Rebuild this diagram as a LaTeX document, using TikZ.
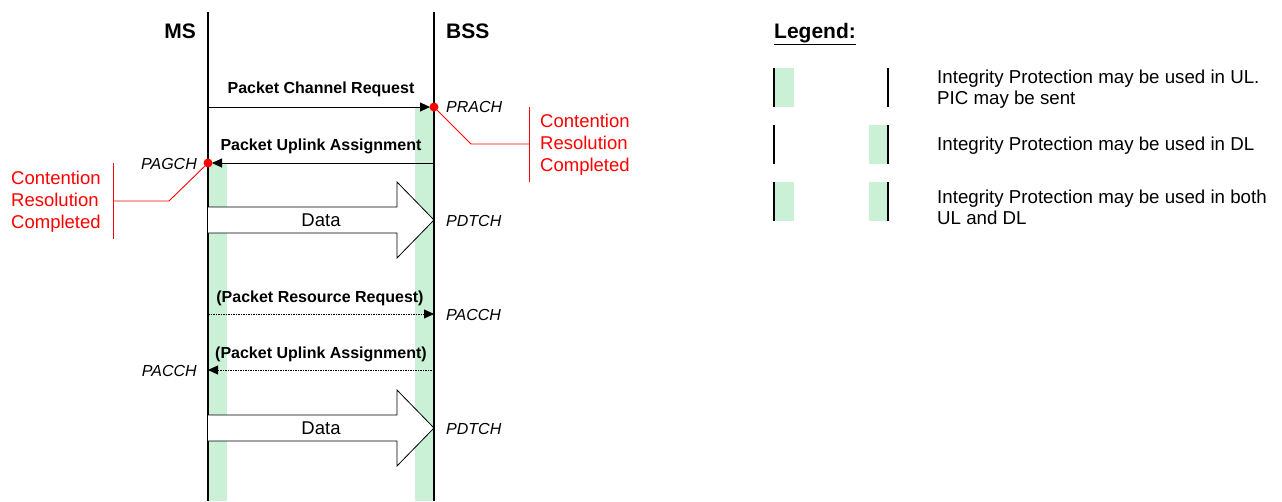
\documentclass[tikz,border=0pt]{standalone}
\usepackage{fontspec}
\setmainfont{Liberation Sans}
\usetikzlibrary{arrows.meta}
\definecolor{bandgreen}{RGB}{202,240,214}
\definecolor{cred}{RGB}{255,0,0}
\tikzset{
  lifeline/.style={line width=2pt},
  band/.style={fill=bandgreen},
  msgarrow/.style={line width=0.9pt,-{Triangle[length=10pt,width=9pt]}},
  optarrow/.style={line width=0.8pt,dash pattern=on 1.5pt off 1pt,-{Triangle[length=10pt,width=9pt]}},
  msglabel/.style={font=\fontsize{16}{19}\selectfont\bfseries,inner sep=0pt,anchor=base},
  chan/.style={font=\fontsize{16}{19}\selectfont\itshape,inner sep=0pt},
  entity/.style={font=\fontsize{21}{25}\selectfont\bfseries,inner sep=0pt},
  bigarrow/.style={fill=white,draw=black,line width=0.8pt,line join=miter},
  datalabel/.style={font=\fontsize{18.5}{22}\selectfont,inner sep=0pt,anchor=base},
  reddot/.style={circle,fill=cred,inner sep=0pt,minimum size=9pt},
  redline/.style={draw=cred,line width=0.9pt},
  redtext/.style={font=\fontsize{18.5}{22}\selectfont,text=cred,align=left,inner sep=0pt,anchor=north west},
  legtext/.style={font=\fontsize{18.7}{21.5}\selectfont,align=left,inner sep=0pt,anchor=north west},
  legbar/.style={line width=2pt},
}
\begin{document}
\begin{tikzpicture}[x=1pt,y=-1pt]
\useasboundingbox (0,0) rectangle (1282,501);

% protection bands along the lifelines
\fill[band] (208,163) rectangle (227,501);
\fill[band] (415,107) rectangle (434,501);

% lifelines
\coordinate (msT) at (208,12);
\coordinate (msB) at (208,501);
\coordinate (bssT) at (434,12);
\coordinate (bssB) at (434,501);
\draw[lifeline] (msT) -- (msB);
\draw[lifeline] (bssT) -- (bssB);

\node[entity,anchor=base east] (ms) at (196,38) {MS};
\node[entity,anchor=base west] (bss) at (446,38) {BSS};

% Packet Channel Request
\coordinate (r1a) at (208,107);
\coordinate (r1b) at (430,107);
\draw[msgarrow] (r1a) -- (r1b);
\node[msglabel] (l1) at (321,93) {Packet Channel Request};
\node[chan,anchor=base west] (prach) at (446,112) {PRACH};

% Packet Uplink Assignment
\coordinate (r2a) at (434,163);
\coordinate (r2b) at (212,163);
\draw[msgarrow] (r2a) -- (r2b);
\node[msglabel] (l2) at (321,150) {Packet Uplink Assignment};
\node[chan,anchor=base east] (pagch) at (197,169) {PAGCH};

% first data transfer
\draw[bigarrow] (208,207) -- (397,207) -- (397,182) -- (434,220) -- (397,258) -- (397,233) -- (208,233);
\node[datalabel] (data1) at (321,226) {Data};
\node[chan,anchor=base west] (pdtch1) at (446,226) {PDTCH};

% optional resource request
\coordinate (r3a) at (208,314);
\coordinate (r3b) at (434,314);
\draw[optarrow] (r3a) -- (r3b);
\node[msglabel] (l3) at (320,302) {(Packet Resource Request)};
\node[chan,anchor=base west] (pacch1) at (446,320) {PACCH};

% optional uplink assignment
\coordinate (r4a) at (434,370);
\coordinate (r4b) at (208,370);
\draw[optarrow] (r4a) -- (r4b);
\node[msglabel] (l4) at (321,358) {(Packet Uplink Assignment)};
\node[chan,anchor=base east] (pacch2) at (197,376) {PACCH};

% second data transfer
\draw[bigarrow] (208,415) -- (397,415) -- (397,390) -- (434,428) -- (397,466) -- (397,441) -- (208,441);
\node[datalabel] (data2) at (321,434) {Data};
\node[chan,anchor=base west] (pdtch2) at (446,434) {PDTCH};

% contention resolution markers
\node[reddot] (d1) at (434,107) {};
\node[reddot] (d2) at (208,163) {};
\coordinate (k1) at (471,144);
\coordinate (k1e) at (529,144);
\draw[redline] (d1) -- (k1) -- (k1e);
\coordinate (b1t) at (529,107);
\coordinate (b1b) at (529,182);
\draw[redline] (b1t) -- (b1b);
\node[redtext] (cr1) at (540,114) {Contention\\Resolution\\Completed};

\coordinate (k2) at (169,201);
\coordinate (k2e) at (113,201);
\draw[redline] (d2) -- (k2) -- (k2e);
\coordinate (b2t) at (113,163);
\coordinate (b2b) at (113,239);
\draw[redline] (b2t) -- (b2b);
\node[redtext] (cr2) at (11,171) {Contention\\Resolution\\Completed};

% legend
\node[font=\fontsize{21}{25}\selectfont\bfseries,inner sep=0pt,anchor=base west] (leg) at (774,38) {\underline{Legend:}};

\fill[band] (774,68) rectangle (794,107);
\draw[legbar] (774,68) -- (774,107);
\draw[legbar] (888,68) -- (888,107);
\node[legtext] (t1) at (937,69.5) {Integrity Protection may be used in UL.\\PIC may be sent};

\fill[band] (869,125) rectangle (888,164);
\draw[legbar] (774,125) -- (774,164);
\draw[legbar] (888,125) -- (888,164);
\node[legtext] (t2) at (937,136.5) {Integrity Protection may be used in DL};

\fill[band] (774,182) rectangle (794,221);
\fill[band] (869,182) rectangle (888,221);
\draw[legbar] (774,182) -- (774,221);
\draw[legbar] (888,182) -- (888,221);
\node[legtext] (t3) at (937,189.5) {Integrity Protection may be used in both\\UL and DL};
\end{tikzpicture}
\end{document}
